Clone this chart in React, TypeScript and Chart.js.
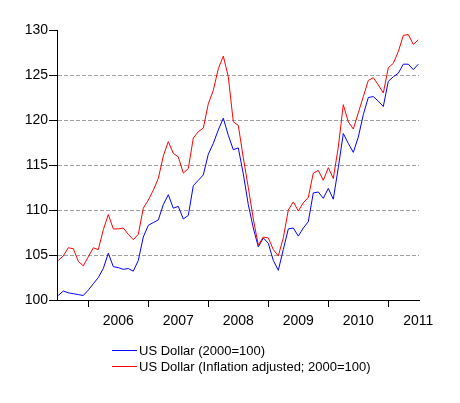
import { useEffect, useRef } from "react";
import { Chart, registerables } from "chart.js";

Chart.register(...registerables);

// Monthly index values, July 2005 .. July 2011 (one value per month)
const nominalIndex = [
  100.5, 101.0, 100.8, 100.7, 100.6, 100.5, 101.1, 101.8, 102.5, 103.5,
  105.2, 103.7, 103.6, 103.4, 103.5, 103.2, 104.4, 107.0, 108.3, 108.6,
  108.9, 110.6, 111.7, 110.2, 110.4, 109.0, 109.4, 112.7, 113.3, 113.9,
  116.2, 117.4, 118.9, 120.2, 118.3, 116.7, 116.9, 114.0, 110.6, 108.0,
  105.9, 106.9, 106.3, 104.4, 103.3, 105.6, 107.9, 108.0, 107.1, 108.0,
  108.7, 111.9, 112.0, 111.3, 112.4, 111.2, 114.7, 118.5, 117.4, 116.4,
  118.1, 120.6, 122.5, 122.6, 122.1, 121.5, 124.3, 124.8, 125.2, 126.2,
  126.2, 125.6, 126.2,
];

const realIndex = [
  104.4, 104.9, 105.8, 105.7, 104.3, 103.8, 104.8, 105.8, 105.6, 107.8,
  109.5, 107.9, 107.9, 108.0, 107.3, 106.7, 107.3, 110.2, 111.1, 112.2,
  113.5, 116.0, 117.6, 116.3, 115.9, 114.1, 114.6, 118.0, 118.7, 119.1,
  121.8, 123.3, 125.7, 127.1, 124.8, 119.8, 119.4, 115.8, 112.5, 109.0,
  106.1, 107.0, 106.9, 105.6, 104.9, 106.9, 110.0, 110.9, 109.9, 110.8,
  111.4, 114.1, 114.4, 113.3, 114.7, 113.5, 117.0, 121.7, 119.8, 119.0,
  120.8, 122.6, 124.4, 124.7, 123.9, 123.0, 125.8, 126.3, 127.6, 129.4,
  129.5, 128.4, 128.9,
];

// Year labels sit mid-year; tick marks sit on the January boundaries
const yearLabels = ["2006", "2007", "2008", "2009", "2010", "2011"];
const seriesNames = ["US Dollar (2000=100)", "US Dollar (Inflation adjusted; 2000=100)"];
const seriesColors = ["#0000ff", "#ff0000"];

const FONT = '"Liberation Sans", Arial, sans-serif';

const legendPlugin = {
  id: "stackedLegend",
  afterDraw(chart: Chart) {
    const ctx = chart.ctx;
    ctx.save();
    ctx.font = `13px ${FONT}`;
    ctx.textBaseline = "middle";
    ctx.fillStyle = "#000";
    seriesNames.forEach((name, i) => {
      const y = 350.5 + i * 16;
      ctx.strokeStyle = seriesColors[i];
      ctx.lineWidth = 1;
      ctx.beginPath();
      ctx.moveTo(112, y);
      ctx.lineTo(137, y);
      ctx.stroke();
      ctx.fillText(name, 139, y + 0.5);
    });
    ctx.restore();
  },
};

export default function App() {
  const canvasRef = useRef<HTMLCanvasElement | null>(null);

  useEffect(() => {
    const canvas = canvasRef.current;
    if (!canvas) return;

    const toPoints = (arr: number[]) => arr.map((y, x) => ({ x, y }));

    const chart = new Chart(canvas, {
      type: "line",
      data: {
        datasets: [
          {
            label: seriesNames[0],
            data: toPoints(nominalIndex),
            borderColor: seriesColors[0],
            borderWidth: 1,
            pointRadius: 0,
            tension: 0,
            fill: false,
            order: 1,
          },
          {
            label: seriesNames[1],
            data: toPoints(realIndex),
            borderColor: seriesColors[1],
            borderWidth: 1,
            pointRadius: 0,
            tension: 0,
            fill: false,
            order: 0,
          },
        ],
      },
      options: {
        responsive: false,
        animation: false,
        events: [],
        layout: { padding: { left: 0, right: 41, top: 30, bottom: 0 } },
        plugins: {
          legend: { display: false },
          tooltip: { enabled: false },
        },
        scales: {
          x: {
            type: "linear",
            min: -0.26,
            max: 72.14,
            afterFit: (scale: any) => {
              scale.height = 103;
            },
            afterBuildTicks: (scale: any) => {
              const ticks: { value: number }[] = [];
              yearLabels.forEach((_, j) => {
                ticks.push({ value: 6 + 12 * j });
                ticks.push({ value: 12 + 12 * j });
              });
              scale.ticks = ticks;
            },
            ticks: {
              autoSkip: false,
              maxRotation: 0,
              minRotation: 0,
              padding: 6,
              color: "#000",
              font: { family: FONT, size: 14 },
              callback: (value: any) => {
                const v = Number(value);
                return v % 12 === 0 ? yearLabels[v / 12 - 1] : "";
              },
            },
            grid: {
              display: true,
              drawOnChartArea: false,
              drawTicks: true,
              tickLength: 7,
              lineWidth: 1,
              tickColor: (ctx: any) =>
                ctx.tick && ctx.tick.value % 12 === 6 ? "#000" : "rgba(0,0,0,0)",
            },
            border: { display: true, color: "#000", width: 1 },
          },
          y: {
            type: "linear",
            min: 100,
            max: 130,
            afterFit: (scale: any) => {
              scale.width = 57;
            },
            ticks: {
              stepSize: 5,
              padding: 1,
              color: "#000",
              font: { family: FONT, size: 14 },
            },
            grid: {
              display: true,
              drawOnChartArea: true,
              drawTicks: true,
              tickLength: 8,
              lineWidth: 1,
              color: (ctx: any) =>
                ctx.tick && (ctx.tick.value === 100 || ctx.tick.value === 130)
                  ? "rgba(0,0,0,0)"
                  : "#a0a0a0",
              tickColor: "#000",
              tickBorderDash: [],
            },
            border: { display: true, color: "#000", width: 1, dash: [4, 2] },
          },
        },
      },
      plugins: [legendPlugin],
    });

    return () => chart.destroy();
  }, []);

  return (
    <div style={{ position: "fixed", left: 0, top: 0, width: 460, height: 403, background: "#fff" }}>
      <canvas ref={canvasRef} width={460} height={403} style={{ display: "block" }} />
    </div>
  );
}
